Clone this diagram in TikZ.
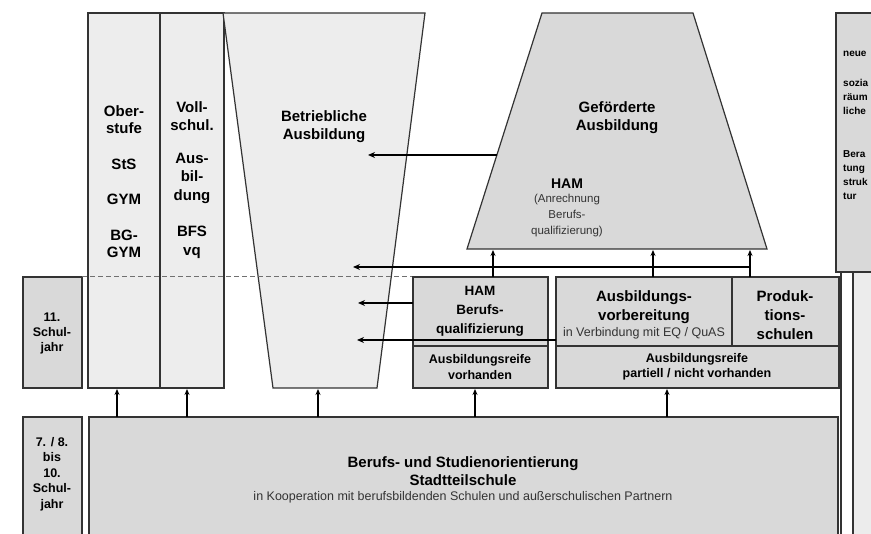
\documentclass[tikz,border=0pt]{standalone}
\usepackage{fontspec}
\setmainfont{Liberation Sans}
\usetikzlibrary{arrows.meta}
\definecolor{lightfill}{gray}{0.93}
\definecolor{midfill}{gray}{0.85}
\definecolor{edge}{gray}{0.2}
\tikzset{
  box/.style={draw=edge, line width=1.2pt},
  biglabel/.style={font=\bfseries\fontsize{15}{18}\selectfont, align=center, inner sep=0pt},
  smalllabel/.style={font=\bfseries\fontsize{12.5}{15.5}\selectfont, align=center, inner sep=0pt},
  note/.style={font=\fontsize{12.5}{14}\selectfont, align=center, inner sep=0pt, text=black!80},
  flow/.style={draw=black, line width=1.6pt, -{Stealth[length=7pt,width=6pt]}},
  upflow/.style={draw=black, line width=1.1pt, -{Stealth[length=6pt,width=5pt]}}
}
\begin{document}
\begin{tikzpicture}[x=1pt,y=-1pt]
  \useasboundingbox (0,0) rectangle (871,534);
  % Schuljahre
  \filldraw [box, fill=midfill] (23,277) rectangle (82,388);
  \filldraw [box, fill=midfill] (23,417) rectangle (82,545);
  \node [smalllabel, font=\bfseries\fontsize{12.5}{15}\selectfont] (jahr11) at (52,333) {11.\\Schul-\\jahr};
  \node [smalllabel, font=\bfseries\fontsize{12.5}{15.5}\selectfont] (jahr7) at (52,474) {7. / 8.\\bis\\10.\\Schul-\\jahr};
  % Saeulen links
  \filldraw [box, fill=lightfill] (88,13) rectangle (160,388);
  \filldraw [box, fill=lightfill] (160,13) rectangle (224,388);
  \node [biglabel, anchor=north, font=\bfseries\fontsize{15}{17.5}\selectfont] (oberstufe) at (124,105)
    {Ober-\\stufe\\[18pt]StS\\[18pt]GYM\\[18pt]BG-\\GYM};
  \node [biglabel, anchor=north, font=\bfseries\fontsize{15}{18.5}\selectfont] (vollschul) at (192,101)
    {Voll-\\schul.\\[14pt]Aus-\\bil-\\dung\\[18pt]BFS\\vq};
  \filldraw [box, fill=lightfill] (223,13) -- (425,13) -- (377,388) -- (273,388) -- cycle;
  \node [biglabel] (betrieb) at (324,127) {Betriebliche\\Ausbildung};
  \draw [edge!70, line width=1pt, dash pattern=on 5pt off 3pt] (82,277) -- (412,277);
  % Gefoerderte Ausbildung
  \filldraw [box, fill=midfill] (542,13) -- (693,13) -- (767,249) -- (467,249) -- cycle;
  \node [biglabel] (gefoerdert) at (617,118) {Geförderte\\Ausbildung};
  \node [smalllabel, font=\bfseries\fontsize{14}{15}\selectfont] (hamtop) at (567,184) {HAM};
  \node [note, font=\fontsize{11.5}{16}\selectfont] (anrechnung) at (567,216) {(Anrechnung\\Berufs-\\qualifizierung)};
  % 11. Schuljahr
  \filldraw [box, fill=midfill] (413,277) rectangle (548,388);
  \draw [box] (413,346) -- (548,346);
  \node [biglabel, font=\bfseries\fontsize{13.5}{19}\selectfont] (hamberuf) at (480,311) {HAM\\Berufs-\\qualifizierung};
  \node [smalllabel] (reifeja) at (480,367) {Ausbildungsreife\\vorhanden};
  \filldraw [box, fill=midfill] (556,277) rectangle (839,388);
  \draw [box] (556,346) -- (839,346);
  \draw [box] (732,277) -- (732,346);
  \node [biglabel, font=\bfseries\fontsize{15}{19}\selectfont] (vorbereitung) at (644,307) {Ausbildungs-\\vorbereitung};
  \node [note] (eqquas) at (644,333) {in Verbindung mit EQ / QuAS};
  \node [biglabel, font=\bfseries\fontsize{15}{19}\selectfont] (produktion) at (785,315) {Produk-\\tions-\\schulen};
  \node [smalllabel] (reifenein) at (697,367) {Ausbildungsreife\\partiell / nicht vorhanden};
  % Stadtteilschule
  \filldraw [box, fill=midfill] (89,417) rectangle (838,545);
  \node [biglabel] (orient) at (463,471) {Berufs- und Studienorientierung\\Stadtteilschule};
  \node [note] (koop) at (463,497) {in Kooperation mit berufsbildenden Schulen und außerschulischen Partnern};
  % rechter Rand
  \filldraw [box, fill=midfill] (836,13) rectangle (880,272);
  \node [smalllabel, font=\bfseries\fontsize{10}{14}\selectfont, anchor=north west, align=left] (rand) at (843,51)
    {neue\\[16pt]sozia\\räum\\liche\\[29pt]Bera\\tung\\struk\\tur};
  \draw [box] (841,272) -- (841,545);
  \filldraw [box, fill=gray!15] (853,272) rectangle (880,545);
  % Pfeile
  \coordinate (gl) at (497,155);
  \coordinate (bt1) at (368,155);
  \draw [flow] (gl) -- (bt1);
  \coordinate (sammel) at (750,267);
  \coordinate (bt2) at (353,267);
  \draw [flow] (sammel) -- (bt2);
  \foreach \x [count=\i] in {493,653,750}
  {\coordinate (ab\i) at (\x,277);
   \coordinate (gb\i) at (\x,250);
   \draw [upflow, line width=1.4pt] (ab\i) -- (gb\i);
  };
  \coordinate (hl) at (413,303);
  \coordinate (bt3) at (358,303);
  \draw [flow] (hl) -- (bt3);
  \coordinate (vl) at (556,340);
  \coordinate (bt4) at (357,340);
  \draw [flow] (vl) -- (bt4);
  \foreach \x [count=\i] in {117,187,318,475,667}
  {\coordinate (st\i) at (\x,417);
   \coordinate (ob\i) at (\x,389);
   \draw [upflow] (st\i) -- (ob\i);
  };
\end{tikzpicture}
\end{document}
